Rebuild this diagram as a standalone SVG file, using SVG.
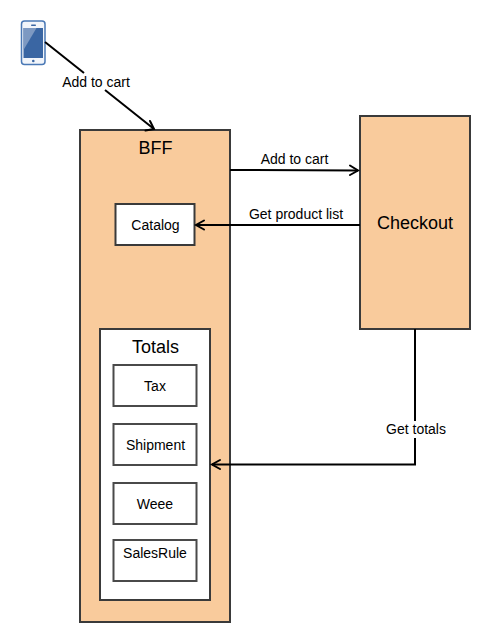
<svg xmlns="http://www.w3.org/2000/svg" width="495" height="642" viewBox="0 0 495 642">
<style>
.box{stroke:#3a3a3a;stroke-width:2}
.o{fill:#f9cb9c}
.w{fill:#fff}
.i{fill:#fff;stroke:#4a4a4a;stroke-width:2}
text{font-family:"Liberation Sans",Arial,sans-serif;fill:#000;text-anchor:middle}
.s{font-size:14px}
.m{font-size:18px}
.c{fill:none;stroke:#000;stroke-width:2}
.a{fill:none;stroke:#000;stroke-width:2;stroke-linecap:round;stroke-linejoin:miter}
</style>
<rect width="495" height="642" fill="#fff"/>
<g id="phone">
<rect x="21.500" y="21" width="23.500" height="43.500" rx="3" fill="#f2f5fa" stroke="#4a78b5" stroke-width="1.500"/>
<rect x="23.500" y="28" width="19.500" height="30" fill="#3a66a3"/>
<path d="M23.500 28h13l-13 22z" fill="#7d99c2"/>
<rect x="31" y="24.500" width="5" height="1.500" rx="0.700" fill="#3a66a3"/>
<circle cx="33.300" cy="61" r="1.300" fill="#3a66a3"/>
</g>
<g id="bff">
<rect class="box o" x="80" y="130" width="150" height="492"/>
<text class="m" x="155.500" y="154">BFF</text>
</g>
<g id="catalog">
<rect class="box w" x="115.500" y="204" width="79" height="41"/>
<text class="s" x="155.500" y="230">Catalog</text>
</g>
<g id="totals">
<rect class="box w" x="100" y="329" width="110" height="271"/>
<text class="m" x="155.500" y="353">Totals</text>
</g>
<g id="tax">
<rect class="i" x="113.500" y="365" width="83" height="41"/>
<text class="s" x="155" y="391">Tax</text>
</g>
<g id="shipment">
<rect class="i" x="113.500" y="424" width="83" height="41"/>
<text class="s" x="155.500" y="450">Shipment</text>
</g>
<g id="weee">
<rect class="i" x="113.500" y="483" width="83" height="41"/>
<text class="s" x="155" y="509">Weee</text>
</g>
<g id="salesrule">
<rect class="i" x="113.500" y="540" width="83" height="41"/>
<text class="s" x="155" y="558">SalesRule</text>
</g>
<g id="checkout">
<rect class="box o" x="360" y="116" width="110" height="213"/>
<text class="m" x="415" y="229">Checkout</text>
</g>
<g id="connectors">
<path class="c" d="M45 42L84 73M105 90L154 129"/>
<path class="a" d="M145.500 130.500L154 129L150 121"/>
<path class="c" d="M230 170L358 170.500"/>
<path class="a" d="M350 165.500L358 170.500L350 175"/>
<path class="c" d="M360 225H196"/>
<path class="a" d="M204 220.500L196 225L204 229.500"/>
<path class="c" d="M415 329V421M415 438V464.500H212"/>
<path class="a" d="M220 460L212 464.500L220 469"/>
</g>
<g id="labels">
<text class="s" x="96" y="87">Add to cart</text>
<text class="s" x="294.500" y="164">Add to cart</text>
<text class="s" x="296" y="219">Get product list</text>
<text class="s" x="416" y="434">Get totals</text>
</g>
</svg>
